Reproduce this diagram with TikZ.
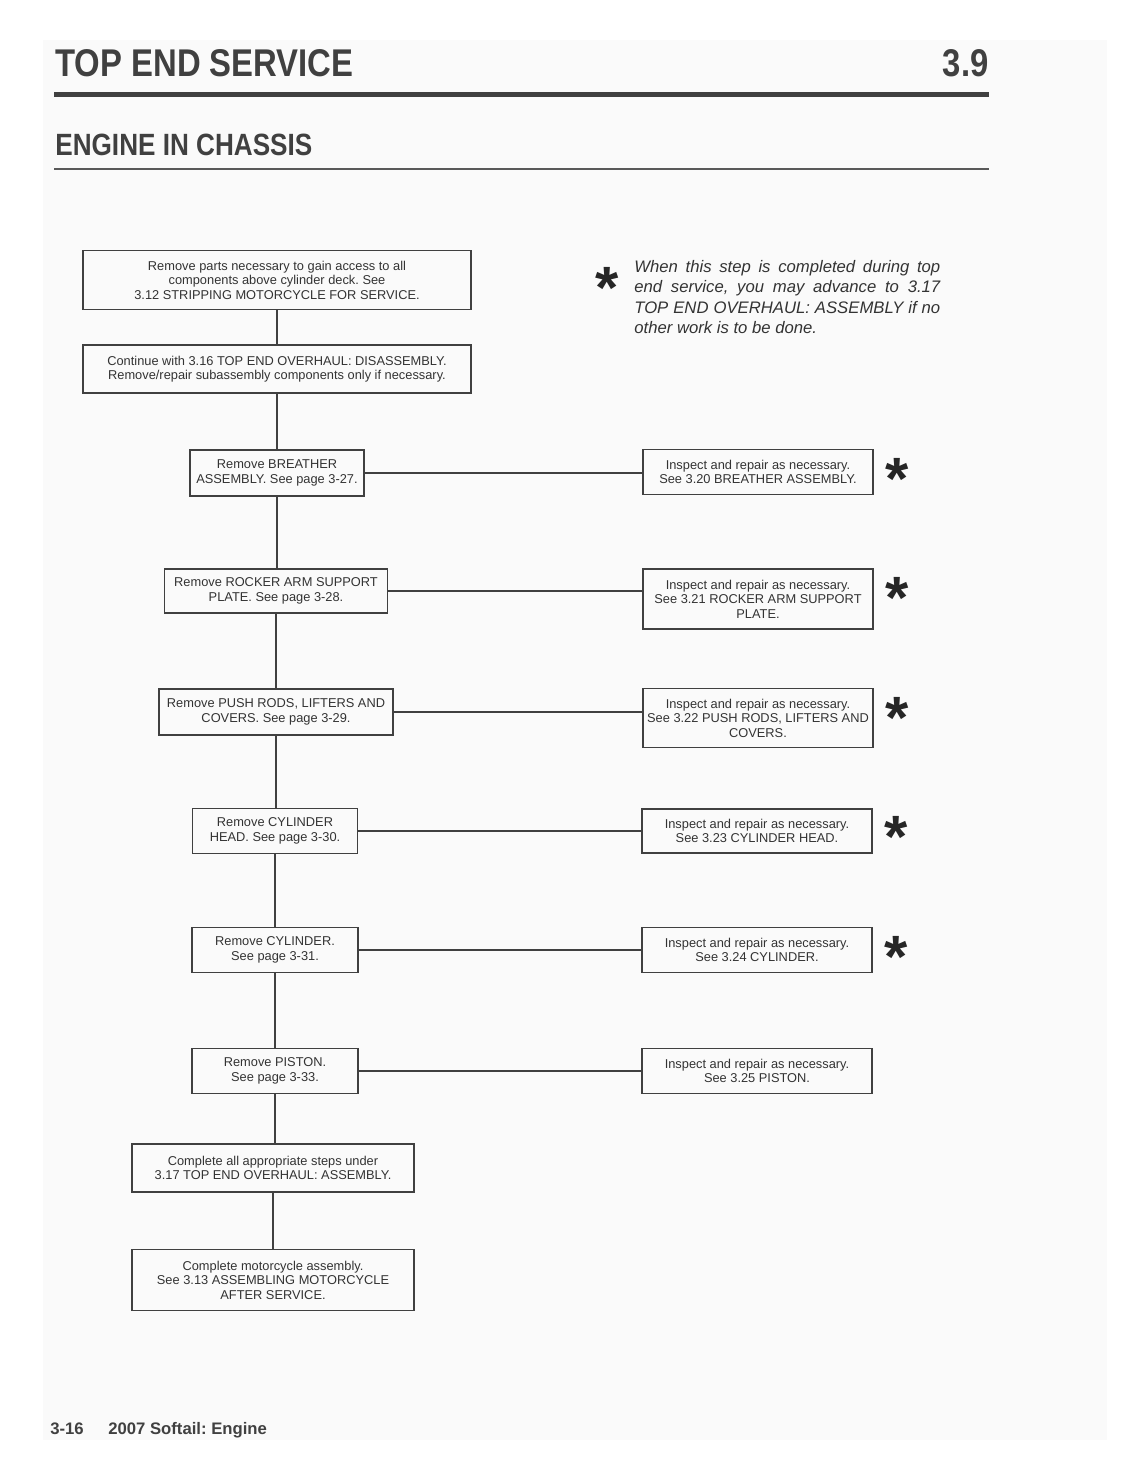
\documentclass[tikz,border=0pt]{standalone}
\usepackage{fontspec}
\setmainfont{Liberation Sans}
\newfontfamily\headfont[FakeStretch=0.85]{Liberation Sans}
\usetikzlibrary{positioning}
\frenchspacing

\begin{document}
\begin{tikzpicture}[
    x=0.02cm, y=-0.02cm,
    every node/.style={align=center, text=black!80},
    stepbox/.style={draw=black!75, line width=1pt, inner sep=1pt,
        font=\fontsize{7.3}{8.3}\selectfont},
    leftbox/.style={stepbox},
    rightbox/.style={stepbox, minimum width=4.60cm},
    link/.style={draw=black!75, line width=1pt},
    star/.style={anchor=north, inner sep=0pt, text=black!85,
        font=\fontsize{34}{34}\selectfont\bfseries},
    ]
\useasboundingbox (0,0) rectangle (1135,1468);
\fill[black!2] (43,40) rectangle (1107,1440);
% page heading
\node[anchor=base west, inner sep=0pt, text=black!75, font=\headfont\fontsize{22}{22}\selectfont\bfseries] (title) at (55,76) {TOP END SERVICE};
\node[anchor=base east, inner sep=0pt, text=black!75, font=\headfont\fontsize{22}{22}\selectfont\bfseries] (chapter) at (989,76) {3.9};
\draw[black!75, line width=0.1cm] (54,94) -- (989,94);
\node[anchor=base west, inner sep=0pt, text=black!75, font=\headfont\fontsize{17.5}{17.5}\selectfont\bfseries] (section) at (55,155) {ENGINE IN CHASSIS};
\draw[black!65, line width=0.6pt] (54,169) -- (989,169);
% note
\node[star] (notestar) at (607,267) {*};
\node[anchor=north west, inner sep=0pt, text width=6.12cm, align=justify,
    font=\fontsize{9.5}{11.6}\selectfont\itshape] (note) at (634,260)
    {When this step is completed during top end service, you may advance to 3.17 TOP END OVERHAUL: ASSEMBLY if no other work is to be done.};
% main column
\node[leftbox, minimum width=7.76cm, minimum height=1.18cm] (strip) at (277,280) {Remove parts necessary to gain access to all\\components above cylinder deck. See\\3.12 STRIPPING MOTORCYCLE FOR SERVICE.};
\node[leftbox, minimum width=7.76cm, minimum height=0.96cm] (disasm) at (277,369) {Continue with 3.16 TOP END OVERHAUL: DISASSEMBLY.\\Remove/repair subassembly components only if necessary.};
\node[leftbox, minimum width=3.48cm, minimum height=0.92cm] (breather) at (277,473) {Remove BREATHER\\ASSEMBLY. See page 3-27.};
\node[leftbox, minimum width=4.46cm, minimum height=0.88cm] (rocker) at (276,591) {Remove ROCKER ARM SUPPORT\\PLATE. See page 3-28.};
\node[leftbox, minimum width=4.68cm, minimum height=0.92cm] (pushrods) at (276,712) {Remove PUSH RODS, LIFTERS AND\\COVERS. See page 3-29.};
\node[leftbox, minimum width=3.30cm, minimum height=0.90cm] (head) at (275,831) {Remove CYLINDER\\HEAD. See page 3-30.};
\node[leftbox, minimum width=3.32cm, minimum height=0.90cm] (cylinder) at (275,950) {Remove CYLINDER.\\See page 3-31.};
\node[leftbox, minimum width=3.32cm, minimum height=0.90cm] (piston) at (275,1071) {Remove PISTON.\\See page 3-33.};
\node[leftbox, minimum width=5.64cm, minimum height=0.96cm] (asm) at (273,1168) {Complete all appropriate steps under\\3.17 TOP END OVERHAUL: ASSEMBLY.};
\node[leftbox, minimum width=5.64cm, minimum height=1.22cm] (final) at (273,1280) {Complete motorcycle assembly.\\See 3.13 ASSEMBLING MOTORCYCLE\\AFTER SERVICE.};
% inspection column
\node[rightbox, minimum height=0.90cm] (insbreather) at (758,472) {Inspect and repair as necessary.\\See 3.20 BREATHER ASSEMBLY.};
\node[rightbox, minimum height=1.20cm] (insrocker) at (758,599) {Inspect and repair as necessary.\\See 3.21 ROCKER ARM SUPPORT\\PLATE.};
\node[rightbox, minimum height=1.18cm] (inspushrods) at (758,718) {Inspect and repair as necessary.\\See 3.22 PUSH RODS, LIFTERS AND\\COVERS.};
\node[rightbox, minimum height=0.88cm] (inshead) at (757,831) {Inspect and repair as necessary.\\See 3.23 CYLINDER HEAD.};
\node[rightbox, minimum height=0.90cm] (inscylinder) at (757,950) {Inspect and repair as necessary.\\See 3.24 CYLINDER.};
\node[rightbox, minimum height=0.90cm] (inspiston) at (757,1071) {Inspect and repair as necessary.\\See 3.25 PISTON.};
\node[star] (starbreather) at (897,458) {*};
\node[star] (starrocker) at (897,577) {*};
\node[star] (starpushrods) at (897,697) {*};
\node[star] (starhead) at (896,816) {*};
\node[star] (starcylinder) at (896,936) {*};
% connectors
\foreach \a/\b in {strip/disasm, disasm/breather, breather/rocker, rocker/pushrods,
    pushrods/head, head/cylinder, cylinder/piston, piston/asm, asm/final}
  \draw[link] (\a.south) -- (\a.south |- \b.north);
\foreach \a/\b in {breather/insbreather, rocker/insrocker, pushrods/inspushrods,
    head/inshead, cylinder/inscylinder, piston/inspiston}
  \draw[link] (\a.east) -- (\a.east -| \b.west);
% footer
\node[anchor=base west, inner sep=0pt, text=black!75, font=\fontsize{9.5}{9.5}\selectfont\bfseries] (pageno) at (50,1434) {3-16};
\node[anchor=base west, inner sep=0pt, text=black!75, font=\fontsize{9.5}{9.5}\selectfont\bfseries] (manual) at (108,1434) {2007 Softail: Engine};
\end{tikzpicture}
\end{document}
